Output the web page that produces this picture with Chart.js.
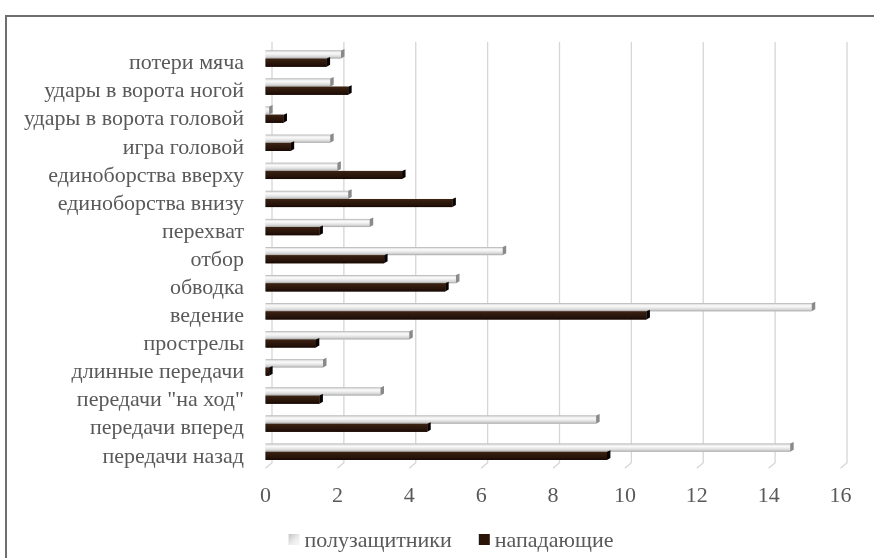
<!DOCTYPE html>
<html>
<head>
<meta charset="utf-8">
<script src="https://cdn.jsdelivr.net/npm/chart.js@4/dist/chart.umd.min.js"></script>
<style>
  html, body { margin: 0; padding: 0; background: #fff; }
  canvas { display: block; }
</style>
</head>
<body>
<canvas id="chart" width="874" height="558"></canvas>
<script>
// Categories (top to bottom)
const categories = [
  'потери мяча',
  'удары в ворота ногой',
  'удары в ворота головой',
  'игра головой',
  'единоборства вверху',
  'единоборства внизу',
  'перехват',
  'отбор',
  'обводка',
  'ведение',
  'прострелы',
  'длинные передачи',
  'передачи "на ход"',
  'передачи вперед',
  'передачи назад'
];

// Series values
const midfielders = [2.1, 1.8, 0.1, 1.8, 2.0, 2.3, 2.9, 6.6, 5.3, 15.2, 4.0, 1.6, 3.2, 9.2, 14.6];
const forwards    = [1.7, 2.3, 0.5, 0.7, 3.8, 5.2, 1.5, 3.3, 5.0, 10.6, 1.4, 0.1, 1.5, 4.5, 9.5];

// Series names
const seriesNames = ['полузащитники', 'нападающие'];

// Value axis ticks
const xTicks = [0, 2, 4, 6, 8, 10, 12, 14, 16];

const FONT = { family: '"Liberation Serif", "DejaVu Serif", serif', size: 22 };
const TEXT = '#595959';
const LIGHT = '#e2e2e2';
const DARK = '#2b1509';

// depth offset of the back wall relative to the front plane
const DEPTH_X = 6.5, DEPTH_Y = 7.5;
const BAR_SHIFT = -5;

const framePlugin = {
  id: 'frame',
  beforeDraw(chart) {
    const ctx = chart.ctx;
    ctx.save();
    ctx.fillStyle = '#fff';
    ctx.fillRect(0, 0, chart.width, chart.height);
    ctx.strokeStyle = '#6e6e6e';
    ctx.lineWidth = 2;
    ctx.beginPath();
    ctx.moveTo(6, chart.height);
    ctx.lineTo(6, 16);
    ctx.lineTo(chart.width, 16);
    ctx.stroke();
    ctx.restore();
  }
};

const wallPlugin = {
  id: 'wall',
  beforeDatasetsDraw(chart) {
    const ctx = chart.ctx;
    const xs = chart.scales.x;
    const area = chart.chartArea;
    const top = area.top - DEPTH_Y;
    const floor = area.bottom - 8;
    ctx.save();
    ctx.strokeStyle = '#d6d6d6';
    ctx.lineWidth = 1.3;
    xTicks.forEach(v => {
      const xf = xs.getPixelForValue(v);
      const xb = xf + DEPTH_X;
      ctx.beginPath();
      ctx.moveTo(xb, top);
      ctx.lineTo(xb, floor);
      ctx.lineTo(xf, floor + 5.5);
      ctx.stroke();
    });
    ctx.restore();
    // bars sit slightly above their category centre
    ctx.save();
    ctx.translate(0, BAR_SHIFT);
  },
  afterDatasetsDraw(chart) {
    const ctx = chart.ctx;
    chart.data.datasets.forEach((ds, di) => {
      const meta = chart.getDatasetMeta(di);
      meta.data.forEach(el => {
        const p = el.getProps(['x', 'y', 'base', 'height'], true);
        const t = p.y - p.height / 2, b = p.y + p.height / 2;
        const x0 = Math.min(p.base, p.x), x1 = Math.max(p.base, p.x);
        const g = ctx.createLinearGradient(0, t, 0, b);
        if (di === 0) {
          g.addColorStop(0, '#aaaaaa');
          g.addColorStop(0.14, '#e2e2e2');
          g.addColorStop(0.32, '#fbfbfb');
          g.addColorStop(0.55, '#ececec');
          g.addColorStop(0.78, '#d6d6d6');
          g.addColorStop(1, '#a8a8a8');
        } else {
          g.addColorStop(0, '#3d2515');
          g.addColorStop(0.3, '#321b0d');
          g.addColorStop(0.7, '#27130a');
          g.addColorStop(1, '#150803');
        }
        ctx.fillStyle = g;
        ctx.fillRect(x0, t, x1 - x0, b - t);
        // visible end face of the bar
        ctx.fillStyle = di === 0 ? '#8a8a8a' : '#070302';
        ctx.beginPath();
        ctx.moveTo(x1, t);
        ctx.lineTo(x1 + 3.5, t - 1.5);
        ctx.lineTo(x1 + 3.5, b - 2);
        ctx.lineTo(x1, b);
        ctx.closePath();
        ctx.fill();
      });
    });
    ctx.restore();
  }
};

const legendPlugin = {
  id: 'bottomLegend',
  afterDraw(chart) {
    const ctx = chart.ctx;
    ctx.save();
    ctx.font = `${FONT.size}px ${FONT.family}`;
    ctx.textBaseline = 'middle';
    const box = 11, gapBox = 5, gapItem = 27, cy = 540;
    const items = chart.data.datasets.map((ds, i) => ({ label: ds.label, i, w: ctx.measureText(ds.label).width }));
    const total = items.reduce((s, it) => s + box + gapBox + it.w, 0) + gapItem * (items.length - 1);
    let x = 451 - total / 2;
    items.forEach(it => {
      if (it.i === 0) {
        const g = ctx.createLinearGradient(x, cy - 6, x + box, cy + 5);
        g.addColorStop(0, '#c4c4c4');
        g.addColorStop(0.6, '#eeeeee');
        g.addColorStop(1, '#f7f7f7');
        ctx.fillStyle = g;
      } else {
        ctx.fillStyle = DARK;
      }
      ctx.fillRect(x, cy - 6, box, box);
      x += box + gapBox;
      ctx.fillStyle = TEXT;
      ctx.fillText(it.label, x, cy + 1);
      x += it.w + gapItem;
    });
    ctx.restore();
  }
};

new Chart(document.getElementById('chart'), {
  type: 'bar',
  data: {
    labels: categories,
    datasets: [
      { label: seriesNames[0], data: midfielders, backgroundColor: LIGHT },
      { label: seriesNames[1], data: forwards, backgroundColor: DARK }
    ]
  },
  options: {
    indexAxis: 'y',
    responsive: false,
    animation: false,
    devicePixelRatio: 1,
    layout: { padding: { top: 49.5, right: 33.5, bottom: 47.2, left: 0 } },
    datasets: { bar: { categoryPercentage: 0.58, barPercentage: 1 } },
    scales: {
      x: {
        min: xTicks[0],
        max: xTicks[xTicks.length - 1],
        ticks: { stepSize: xTicks[1] - xTicks[0], font: FONT, color: TEXT, padding: 12, maxRotation: 0 },
        grid: { display: false, drawTicks: false },
        border: { display: false },
        afterFit(s) { s.height = 40; }
      },
      y: {
        ticks: { font: FONT, color: TEXT, padding: 21.5, autoSkip: false },
        grid: { display: false, drawTicks: false },
        border: { display: false },
        afterFit(s) { s.width = 265.5; }
      }
    },
    plugins: { legend: { display: false }, tooltip: { enabled: false } }
  },
  plugins: [framePlugin, wallPlugin, legendPlugin]
});
</script>
</body>
</html>
